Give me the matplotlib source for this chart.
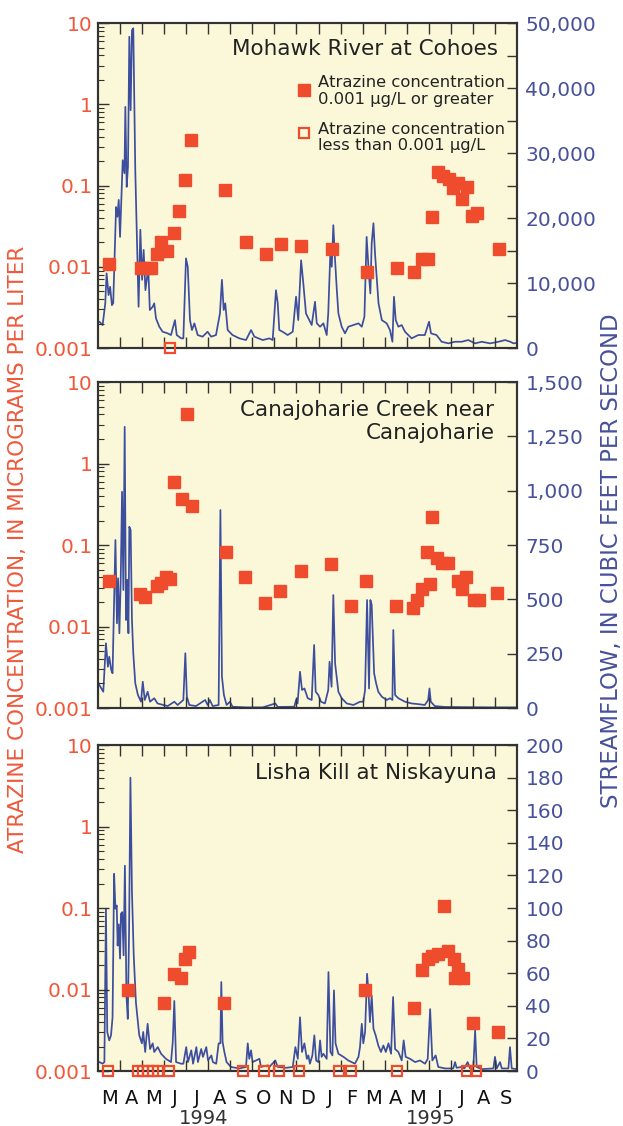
import matplotlib.pyplot as plt
from matplotlib.ticker import FixedLocator, NullFormatter, LogLocator

# x values are months since 1 March 1994 (0 = start of March 1994, 19 = 1 Oct 1995)
month_labels = ['M', 'A', 'M', 'J', 'J', 'A', 'S', 'O', 'N', 'D',
                'J', 'F', 'M', 'A', 'M', 'J', 'J', 'A', 'S']
year_labels = ['1994', '1995']
year_pos = [4.8, 15.1]

# --- Mohawk River at Cohoes ---
flow1_m = [0.0, 0.06, 0.21, 0.33, 0.39, 0.48, 0.55, 0.63, 0.69, 0.82, 0.88, 0.94, 1.0, 1.12, 1.20,
           1.24, 1.30, 1.36, 1.42, 1.48, 1.54, 1.60, 1.69, 1.78, 1.84, 1.92, 2.0, 2.07, 2.15, 2.28,
           2.35, 2.48, 2.55, 2.63, 2.78, 2.93, 3.16, 3.31, 3.49, 3.57, 3.77, 3.87, 3.99, 4.07, 4.17,
           4.26, 4.37, 4.52, 4.74, 4.97, 5.13, 5.35, 5.53, 5.62, 5.70, 5.77, 5.88, 6.10, 6.41, 6.71,
           6.94, 7.09, 7.47, 7.77, 7.92, 8.07, 8.15, 8.22, 8.37, 8.60, 8.83, 8.98, 9.08, 9.21, 9.31,
           9.43, 9.54, 9.69, 9.84, 9.92, 10.07, 10.22, 10.37, 10.44, 10.54, 10.60, 10.67, 10.75,
           10.82, 10.90, 11.05, 11.20, 11.35, 11.58, 11.81, 11.96, 12.08, 12.18, 12.28, 12.35,
           12.41, 12.49, 12.56, 12.72, 12.87, 13.09, 13.24, 13.35, 13.42, 13.50, 13.62, 13.77,
           13.92, 14.22, 14.52, 14.82, 15.01, 15.10, 15.35, 15.58, 15.89, 16.19, 16.49, 16.79,
           17.10, 17.40, 17.78, 18.16, 18.46, 18.69, 18.84, 19.0]
flow1_q = [4000, 4050, 3540, 6880, 11500, 8150, 9430, 6600, 6900, 21700, 20200, 22800, 17100, 28900,
           26900, 37100, 24800, 27900, 47900, 36600, 48900, 49200, 27400, 14600, 6350, 18200, 10500,
           15100, 8900, 12300, 5850, 6350, 6880, 4570, 3280, 2510, 2260, 2000, 4300, 2000, 1490,
           1490, 13800, 12500, 4300, 2770, 3800, 2000, 1750, 2510, 1750, 2000, 5330, 10500, 5850,
           6880, 2770, 2000, 1490, 1230, 2770, 1750, 1230, 1490, 1230, 8900, 6880, 2770, 2510, 2000,
           2510, 7900, 4300, 13500, 9950, 5330, 4570, 3540, 7120, 3800, 3280, 3800, 2000, 5330,
           15100, 12500, 18900, 13500, 9430, 5330, 3280, 2260, 3280, 3540, 3800, 3280, 4820, 17100,
           11500, 8400, 16100, 19200, 14600, 6880, 4300, 3800, 2770, 970, 7900, 4300, 3280, 3540,
           2510, 1490, 2000, 2000, 4050, 2260, 2000, 970, 720, 970, 970, 1230, 720, 970, 720, 970,
           1230, 970, 720, 800]
conc1_m = [0.51, 1.93, 2.21, 2.40, 2.66, 2.86, 3.11, 3.46, 3.69, 3.96, 4.20, 5.76, 6.73, 7.63, 8.30,
           9.22, 10.63, 12.21, 13.58, 14.34, 14.69, 14.95, 15.16, 15.43, 15.66, 15.92, 16.11, 16.31,
           16.52, 16.72, 16.98, 17.20, 18.20]
conc1_v = [0.0107, 0.0098, 0.0098, 0.0098, 0.0145, 0.020, 0.0155, 0.026, 0.048, 0.116, 0.36, 0.087,
           0.020, 0.0145, 0.019, 0.0178, 0.0167, 0.0087, 0.0098, 0.0087, 0.0126, 0.0126, 0.041,
           0.148, 0.13, 0.119, 0.094, 0.107, 0.068, 0.096, 0.042, 0.046, 0.0167]
nd1_m = [3.27]
nd1_v = [0.001]

# --- Canajoharie Creek near Canajoharie ---
flow2_m = [0.0, 0.06, 0.24, 0.36, 0.45, 0.51, 0.60, 0.66, 0.79, 0.86, 0.91, 0.97, 1.03, 1.09, 1.15,
           1.21, 1.27, 1.33, 1.38, 1.42, 1.48, 1.54, 1.60, 1.69, 1.81, 1.95, 2.03, 2.12, 2.25, 2.36,
           2.55, 2.70, 3.16, 3.46, 3.61, 3.87, 3.96, 4.03, 4.14, 4.44, 4.86, 4.97, 5.07, 5.20, 5.47,
           5.55, 5.62, 5.71, 5.83, 5.98, 6.10, 6.71, 7.47, 8.04, 8.15, 8.90, 8.98, 9.05, 9.16, 9.25,
           9.36, 9.51, 9.69, 9.80, 9.87, 9.99, 10.11, 10.29, 10.44, 10.50, 10.59, 10.67, 10.75,
           10.90, 11.05, 11.28, 11.58, 11.88, 12.03, 12.11, 12.20, 12.29, 12.35, 12.41, 12.52,
           12.61, 12.71, 12.87, 13.09, 13.24, 13.35, 13.39, 13.47, 13.62, 13.92, 14.22, 14.52,
           14.82, 14.97, 15.03, 15.09, 15.27, 15.73, 16.63, 17.84, 19.0]
flow2_q = [120, 106, 75, 298, 190, 236, 175, 160, 773, 390, 597, 344, 590, 995, 543, 1294, 405, 590,
           344, 834, 819, 405, 252, 114, 60, 29, 121, 37, 75, 29, 45, 21, 9, 29, 14, 37, 252, 52, 14,
           9, 37, 14, 37, 9, 14, 911, 144, 60, 14, 29, 6, 3, 3, 21, 5, 6, 37, 21, 167, 83, 90, 45,
           37, 290, 75, 60, 29, 21, 83, 213, 98, 520, 206, 75, 45, 21, 14, 29, 29, 83, 497, 90, 497,
           475, 160, 114, 75, 52, 37, 45, 37, 359, 60, 45, 29, 21, 18, 14, 37, 90, 29, 9, 5, 4, 3, 3]
conc2_m = [0.51, 1.90, 2.15, 2.66, 2.86, 3.08, 3.28, 3.46, 3.79, 4.05, 4.25, 5.80, 6.68, 7.59, 8.27,
           9.22, 10.58, 11.49, 12.17, 13.51, 14.29, 14.48, 14.71, 14.94, 15.06, 15.16, 15.36, 15.59,
           15.86, 16.31, 16.52, 16.69, 17.05, 17.29, 18.11]
conc2_v = [0.036, 0.025, 0.023, 0.031, 0.034, 0.041, 0.038, 0.60, 0.37, 4.1, 0.30, 0.083, 0.040,
           0.0195, 0.027, 0.048, 0.058, 0.018, 0.036, 0.018, 0.017, 0.021, 0.029, 0.081, 0.033,
           0.22, 0.069, 0.060, 0.060, 0.036, 0.029, 0.040, 0.021, 0.021, 0.026]
nd2_m = []
nd2_v = []

# --- Lisha Kill at Niskayuna ---
flow3_m = [0.0, 0.06, 0.21, 0.29, 0.36, 0.42, 0.51, 0.59, 0.66, 0.73, 0.79, 0.85, 0.89, 0.94, 1.0,
           1.04, 1.10, 1.16, 1.22, 1.29, 1.35, 1.41, 1.47, 1.54, 1.62, 1.72, 1.87, 1.99, 2.05, 2.14,
           2.25, 2.36, 2.48, 2.55, 2.71, 2.86, 3.08, 3.31, 3.39, 3.46, 3.54, 3.77, 3.87, 4.00, 4.08,
           4.23, 4.31, 4.46, 4.53, 4.68, 4.76, 4.91, 4.99, 5.14, 5.21, 5.36, 5.47, 5.55, 5.59, 5.65,
           5.73, 5.83, 6.03, 6.41, 6.71, 6.79, 6.86, 6.94, 7.01, 7.32, 7.39, 7.70, 7.77, 8.04, 8.15,
           8.53, 8.83, 8.95, 9.06, 9.16, 9.25, 9.36, 9.47, 9.54, 9.61, 9.72, 9.81, 9.89, 9.99, 10.07,
           10.14, 10.22, 10.37, 10.45, 10.54, 10.63, 10.70, 10.77, 10.90, 11.13, 11.35, 11.65,
           11.81, 11.88, 11.96, 12.03, 12.11, 12.20, 12.26, 12.33, 12.41, 12.49, 12.59, 12.71,
           12.83, 12.94, 13.05, 13.17, 13.29, 13.38, 13.47, 13.62, 13.77, 13.86, 13.95, 14.15,
           14.38, 14.60, 14.83, 14.95, 15.06, 15.16, 15.31, 15.43, 15.74, 16.11, 16.19, 16.26,
           16.49, 16.61, 16.76, 16.87, 17.02, 17.10, 17.17, 17.40, 17.93, 18.00, 18.08, 18.23,
           18.31, 18.61, 18.68, 18.76, 19.0]
flow3_q = [6, 5.5, 4.5, 5.5, 99.6, 24, 18.8, 21.9, 33, 121, 99.6, 101.6, 77, 90, 69, 96.5, 97.5, 71,
           126, 46, 32, 87, 180, 110, 71, 42, 22, 17, 24, 11.7, 29, 13.5, 17, 11.7, 14.7, 10.6, 7.5,
           5.5, 17.8, 43, 5.5, 4.5, 4.5, 14.7, 5.5, 12.7, 4.5, 14.7, 5.5, 13.5, 8.7, 14.7, 6.5, 9.6,
           5.5, 4.5, 17, 17, 54.6, 17.8, 11.7, 5.5, 2.5, 1.6, 2.5, 17, 7.5, 12.7, 5.5, 7.5, 2.5, 3.5,
           2.5, 6.5, 2.5, 2, 2.5, 14.7, 7.5, 33, 11.7, 17, 7.5, 9.6, 4.5, 9.6, 21.9, 6.5, 5.5, 18.8,
           8.7, 10.6, 7.5, 60.7, 11.7, 9.6, 49.5, 17, 10.6, 8.7, 6.5, 4.5, 8.7, 14.7, 29, 17, 24,
           59.7, 49.5, 30, 46.4, 26, 21.9, 15.7, 11.7, 15.7, 11.7, 17, 10.6, 45.4, 13.5, 11.7, 6.5,
           18.8, 8.7, 7.5, 5.5, 6.5, 4.5, 7.5, 38, 6.5, 9.6, 2.5, 1.6, 1.6, 5.5, 2, 2.5, 1.6, 5.5,
           1.6, 2.5, 25, 2.5, 1.2, 1.6, 8.7, 1.6, 5.5, 1.6, 1.6, 14.7, 1.6, 1.2]
conc3_m = [1.38, 3.01, 3.46, 3.76, 3.96, 4.14, 5.73, 12.12, 14.33, 14.71, 14.95, 15.16, 15.43, 15.70,
           15.89, 16.16, 16.34, 16.19, 16.57, 17.02, 18.15]
conc3_v = [0.0099, 0.0068, 0.0155, 0.014, 0.0235, 0.029, 0.0068, 0.0099, 0.006, 0.0174, 0.024,
           0.026, 0.027, 0.107, 0.030, 0.024, 0.018, 0.014, 0.014, 0.0039, 0.0030]
nd3_m = [0.47, 1.80, 2.05, 2.28, 2.51, 2.73, 3.22, 6.59, 7.54, 8.22, 9.13, 10.94, 11.46, 13.55,
         16.72, 17.14]
nd3_v = [0.001] * len(nd3_m)

site_names = ['Mohawk River at Cohoes', 'Canajoharie Creek near\nCanajoharie',
              'Lisha Kill at Niskayuna']
flow_max = [50000, 1500, 200]
flow_ticks = [list(range(0, 50001, 10000)), list(range(0, 1501, 250)), list(range(0, 201, 20))]
flow_minor = [list(range(0, 50001, 5000)), [], []]

bg = '#FBF8D9'
red = '#EF4C2D'
red_txt = '#F0583A'
blue = '#3D4E9E'
blue_txt = '#46519A'
frame = '#333333'

fig = plt.figure(figsize=(6.23, 11.26), dpi=100)
positions = [[0.1573, 0.6909, 0.6726, 0.2886],
             [0.1573, 0.3712, 0.6726, 0.2895],
             [0.1573, 0.0488, 0.6726, 0.2895]]
title_xy = [(0.955, 0.92), (0.946, 0.879), (0.952, 0.914)]

panels = [(flow1_m, flow1_q, conc1_m, conc1_v, nd1_m, nd1_v),
          (flow2_m, flow2_q, conc2_m, conc2_v, nd2_m, nd2_v),
          (flow3_m, flow3_q, conc3_m, conc3_v, nd3_m, nd3_v)]

for i, (fm, fq, cm, cv, nm, nv) in enumerate(panels):
    ax = fig.add_axes(positions[i])
    axr = ax.twinx()
    ax.set_zorder(axr.get_zorder() + 1)
    ax.patch.set_visible(False)
    axr.patch.set_visible(True)
    axr.set_facecolor(bg)

    # streamflow (right axis)
    axr.plot(fm, fq, color=blue, lw=1.25)
    axr.set_ylim(0, flow_max[i])
    axr.yaxis.set_major_locator(FixedLocator(flow_ticks[i]))
    axr.set_yticklabels([f"{v:,}" for v in flow_ticks[i]])
    axr.yaxis.set_minor_locator(FixedLocator(flow_minor[i]))
    axr.tick_params(axis='y', which='both', direction='in', length=7, width=1,
                    color=frame, labelcolor=blue_txt, labelsize=14.5, pad=6)

    # atrazine (left axis)
    ax.plot(cm, cv, 's', color=red, ms=8, mec=red, zorder=3, clip_on=False)
    if nm:
        ax.plot(nm, nv, 's', mfc='none', mec=red, mew=1.6, ms=7.5, zorder=3, clip_on=False)
    ax.set_yscale('log')
    ax.set_ylim(0.001, 10)
    ax.yaxis.set_major_locator(FixedLocator([0.001, 0.01, 0.1, 1, 10]))
    ax.set_yticklabels(['0.001', '0.01', '0.1', '1', '10'])
    ax.yaxis.set_minor_locator(LogLocator(base=10, subs=range(2, 10)))
    ax.yaxis.set_minor_formatter(NullFormatter())
    ax.tick_params(axis='y', which='major', direction='in', length=8, width=1,
                   color=frame, labelcolor=red_txt, labelsize=14.5, pad=4)
    ax.tick_params(axis='y', which='minor', direction='in', length=4, width=0.8, color=frame)

    # months
    ax.set_xlim(0, 19)
    ax.xaxis.set_major_locator(FixedLocator(range(1, 19)))
    ax.xaxis.set_major_formatter(NullFormatter())
    ax.xaxis.set_minor_locator(FixedLocator([k + 0.5 for k in range(19)]))
    if i == 2:
        ax.set_xticklabels(month_labels, minor=True)
    else:
        ax.xaxis.set_minor_formatter(NullFormatter())
    ax.tick_params(axis='x', which='major', direction='in', length=8, width=1,
                   color=frame, top=True, bottom=True)
    ax.tick_params(axis='x', which='minor', length=0, labelsize=14, pad=13,
                   labelcolor='#111111')

    for a in (ax, axr):
        for s in a.spines.values():
            s.set_color(frame)
            s.set_linewidth(1.5)

    ax.text(title_xy[i][0], title_xy[i][1], site_names[i], transform=ax.transAxes,
            ha='right', va='center', fontsize=15.5, color='#222222', linespacing=1.22)

    if i == 0:
        ax.plot([0.4916], [0.794], 's', color=red, ms=8, transform=ax.transAxes, clip_on=False)
        ax.plot([0.4916], [0.6615], 's', mfc='none', mec=red, mew=1.6, ms=7.5,
                transform=ax.transAxes, clip_on=False)
        ax.text(0.525, 0.791, 'Atrazine concentration\n0.001 \u00b5g/L or greater',
                transform=ax.transAxes, ha='left', va='center', fontsize=11.8,
                color='#222222', linespacing=1.1)
        ax.text(0.525, 0.649, 'Atrazine concentration\nless than 0.001 \u00b5g/L',
                transform=ax.transAxes, ha='left', va='center', fontsize=11.8,
                color='#222222', linespacing=1.1)

for lab, xp in zip(year_labels, year_pos):
    fig.text(0.1573 + 0.6726 * xp / 19, 0.002, lab, ha='center', va='baseline',
             fontsize=14, color='#333333')

fig.text(0.029, 0.512, 'ATRAZINE CONCENTRATION, IN MICROGRAMS PER LITER', rotation=90,
         ha='center', va='center', fontsize=15.5, color=red_txt)
fig.text(0.981, 0.502, 'STREAMFLOW, IN CUBIC FEET PER SECOND', rotation=90,
         ha='center', va='center', fontsize=16.4, color=blue_txt)

fig.savefig('out.png', dpi=100)
